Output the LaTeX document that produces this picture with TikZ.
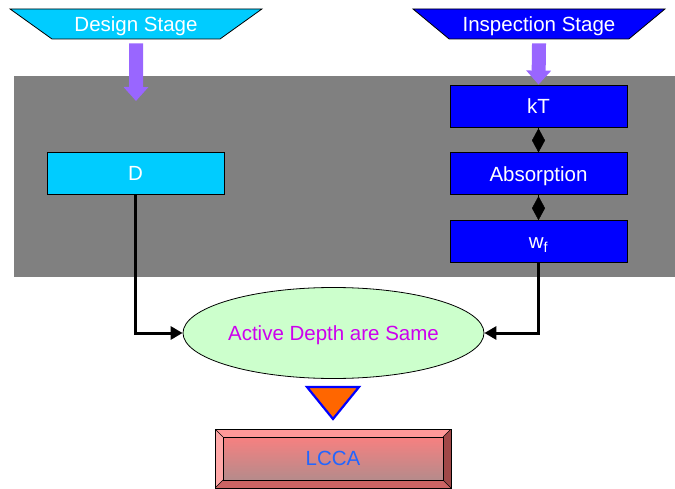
\documentclass[tikz,border=0pt]{standalone}
\usepackage{fontspec}
\setmainfont{Liberation Sans}
\usetikzlibrary{positioning,shapes.geometric,arrows.meta}
\definecolor{designcyan}{HTML}{00CCFF}
\definecolor{inspblue}{HTML}{0000FF}
\definecolor{panelgray}{HTML}{808080}
\definecolor{feedpurple}{HTML}{9966FF}
\definecolor{ovalgreen}{HTML}{CCFFCC}
\definecolor{ovaltext}{HTML}{CC00EE}
\definecolor{tiporange}{HTML}{FF6600}
\definecolor{lccatext}{HTML}{2266FF}
\definecolor{bevtop}{HTML}{FF9999}
\definecolor{bevleft}{HTML}{FFA8A8}
\definecolor{bevright}{HTML}{A04848}
\definecolor{bevbottom}{HTML}{CC6464}
\definecolor{facetop}{HTML}{F78080}
\definecolor{facebottom}{HTML}{B58B8B}
\tikzstyle{stage} = [trapezium, shape border rotate=180, trapezium angle=25.6,
    trapezium stretches=true, minimum width=252pt, minimum height=30pt,
    inner sep=0pt, draw=black, line width=0.8pt, text=white]
\tikzstyle{box} = [rectangle, minimum width=177pt, minimum height=42pt,
    inner sep=0pt, draw=black, line width=0.8pt, text=white]
\tikzstyle{feed} = [feedpurple, line width=14pt, -{Triangle[length=14pt,width=24pt]}]
\tikzstyle{arrow} = [black, line width=3pt, -{Triangle[length=12pt,width=13pt]}]
\tikzstyle{link} = [black, -{Diamond[length=24pt,width=13pt]}]
\tikzstyle{bevel} = [rectangle, minimum width=236pt, minimum height=59pt,
    inner sep=0pt, draw=black, line width=0.8pt, text=lccatext,
    path picture={%
      \path (path picture bounding box.north west) coordinate (bnw)
            (path picture bounding box.south east) coordinate (bse);
      \fill[bevtop] (bnw) -- (bnw -| bse) -- ([shift={(-8pt,-8pt)}]bnw -| bse) -- ([shift={(8pt,-8pt)}]bnw) -- cycle;
      \fill[bevleft] (bnw) -- (bnw |- bse) -- ([shift={(8pt,8pt)}]bnw |- bse) -- ([shift={(8pt,-8pt)}]bnw) -- cycle;
      \fill[bevright] (bnw -| bse) -- (bse) -- ([shift={(-8pt,8pt)}]bse) -- ([shift={(-8pt,-8pt)}]bnw -| bse) -- cycle;
      \fill[bevbottom] (bnw |- bse) -- (bse) -- ([shift={(-8pt,8pt)}]bse) -- ([shift={(8pt,8pt)}]bnw |- bse) -- cycle;
      \shade[top color=facetop, bottom color=facebottom, draw=black, line width=0.8pt]
            ([shift={(8pt,-8pt)}]bnw) rectangle ([shift={(-8pt,8pt)}]bse);
      \draw[line width=0.6pt] (bnw) -- ([shift={(8pt,-8pt)}]bnw)
            (bnw -| bse) -- ([shift={(-8pt,-8pt)}]bnw -| bse)
            (bse) -- ([shift={(-8pt,8pt)}]bse)
            (bnw |- bse) -- ([shift={(8pt,8pt)}]bnw |- bse);
    }]

\begin{document}
\begin{tikzpicture}[%
x=1pt, y=-1pt,
node distance=25pt,
every node/.style={font=\fontsize{20.5pt}{24pt}\selectfont,
    text height=14.7pt, text depth=0pt},
]
\useasboundingbox (0,0) rectangle (675,489);

% grey panel
\fill[panelgray] (14,76) rectangle (675,277);

\node[stage, fill=designcyan] (design) at (136,24) {Design Stage};
\node[stage, fill=inspblue] (insp) at (539,24) {Inspection Stage};

\node[box, fill=designcyan] (D) at (135.5,173) {D};
\node[box, fill=inspblue] (kT) at (538.5,106) {kT};
\node[box, fill=inspblue, below=of kT] (absorb) {Absorption};
\node[box, fill=inspblue, below=of absorb] (wf) {w\textsubscript{f}};

\coordinate (dtip) at (136,101);
\draw[feed] ([yshift=-4pt]design.south) -- (dtip);
\draw[feed] ([yshift=-4pt]insp.south) -- (kT.north);

\draw[link] (kT.south) -- (absorb.north);
\draw[link] (absorb.south) -- (wf.north);

\node[ellipse, inner sep=0pt, minimum width=301pt, minimum height=91pt, fill=ovalgreen,
      draw=black, line width=0.8pt, text=ovaltext] (act) at (333.5,333) {Active Depth are Same};

\draw[arrow] (D.south) |- (act.west);
\draw[arrow] (wf.south) |- (act.east);

% down marker
\filldraw[fill=tiporange, draw=inspblue, line width=2.2pt] (307,387) -- (359,387) -- (333,419) -- cycle;

\node[bevel] (lcca) at (333,458.5) {LCCA};

\end{tikzpicture}
\end{document}
